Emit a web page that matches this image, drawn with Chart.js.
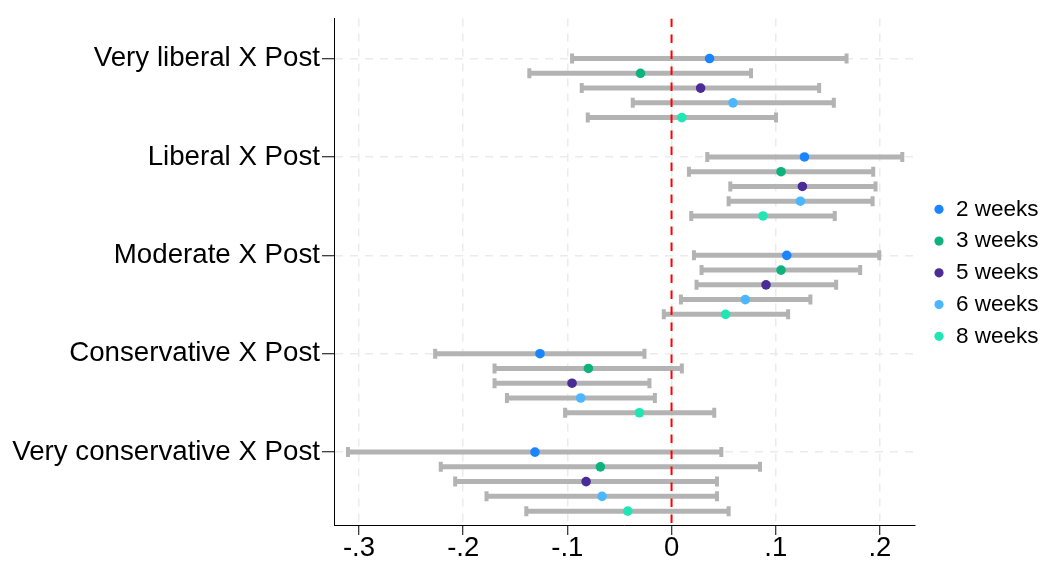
<!DOCTYPE html>
<html><head><meta charset="utf-8">
<script src="https://cdn.jsdelivr.net/npm/chart.js@4/dist/chart.umd.min.js"></script>
<style>html,body{margin:0;padding:0;background:#fff;overflow:hidden}</style>
</head><body>
<canvas id="c" width="1042" height="561" style="display:block;width:1042px;height:561px"></canvas>
<script>
// ---- data ----
const categories = ['Very liberal X Post','Liberal X Post','Moderate X Post','Conservative X Post','Very conservative X Post'];
const seriesLabels = ['2 weeks','3 weeks','5 weeks','6 weeks','8 weeks'];
const xTickValues = [-0.3,-0.2,-0.1,0,0.1,0.2];

const est2w = [0.0365, 0.1276, 0.1106, -0.1263, -0.1311];
const lo2w  = [-0.0955, 0.0343, 0.0215, -0.2269, -0.3106];
const hi2w  = [0.1680, 0.2215, 0.1994, -0.0260, 0.0478];

const est3w = [-0.0298, 0.1051, 0.1051, -0.0798, -0.0683];
const lo3w  = [-0.1365, 0.0167, 0.0288, -0.1699, -0.2215];
const hi3w  = [0.0763, 0.1936, 0.1811, 0.0099, 0.0849];

const est5w = [0.0279, 0.1256, 0.0907, -0.0955, -0.0820];
const lo5w  = [-0.0862, 0.0564, 0.0240, -0.1699, -0.2077];
const hi5w  = [0.1417, 0.1958, 0.1580, -0.0212, 0.0436];

const est6w = [0.0590, 0.1237, 0.0708, -0.0872, -0.0667];
const lo6w  = [-0.0372, 0.0548, 0.0090, -0.1580, -0.1776];
const hi6w  = [0.1558, 0.1930, 0.1333, -0.0160, 0.0436];

const est8w = [0.0099, 0.0878, 0.0519, -0.0308, -0.0420];
const lo8w  = [-0.0804, 0.0189, -0.0074, -0.1022, -0.1394];
const hi8w  = [0.1003, 0.1567, 0.1119, 0.0410, 0.0548];

const colors = ['#1a85ff', '#0db27d', '#4b2c97', '#4cb7ff', '#1fe6b4'];

// ---- build ----
const ests = [est2w, est3w, est5w, est6w, est8w];
const los = [lo2w, lo3w, lo5w, lo6w, lo8w];
const his = [hi2w, hi3w, hi5w, hi6w, hi8w];
const ROW = 0.15;
const Y_MIN = -0.406, Y_MAX = 4.741;
const X_MIN = -0.324, X_MAX = 0.2337;

const datasets = [];
seriesLabels.forEach((lab, s) => {
  datasets.push({
    label: lab,
    data: categories.map((c, g) => ({x: ests[s][g], y: g + s * ROW})),
    backgroundColor: colors[s],
    borderColor: colors[s],
    pointRadius: 4.8,
    pointHoverRadius: 4.8,
    pointBorderWidth: 0,
    showLine: false
  });
});
datasets.push({
  label: '_zero',
  data: [{x: 0, y: Y_MIN}, {x: 0, y: Y_MAX}],
  showLine: true,
  borderColor: '#ff0000',
  borderWidth: 2,
  borderDash: [8.5, 7.5],
  pointRadius: 0,
  pointHoverRadius: 0
});
seriesLabels.forEach((lab, s) => {
  categories.forEach((c, g) => {
    const y = g + s * ROW;
    datasets.push({
      label: '_ci',
      data: [{x: los[s][g], y}, {x: his[s][g], y}],
      showLine: true,
      borderColor: '#b3b3b3',
      borderWidth: 5,
      pointStyle: 'line',
      rotation: 90,
      pointRadius: 5,
      pointHoverRadius: 5,
      pointBorderWidth: 4,
      pointBorderColor: '#b3b3b3',
      pointBackgroundColor: '#b3b3b3'
    });
  });
});

Chart.defaults.font.family = 'Arial, "Liberation Sans", Helvetica, sans-serif';
Chart.defaults.color = '#000';

const LEGEND_FONT = 22.5;
const legendFix = {
  id: 'legendFix',
  beforeLayout(chart) {
    const lg = chart.legend;
    if (lg && !lg._fixed) {
      const f = lg.fit.bind(lg);
      lg.fit = function () { f(); this.width = 127; };
      lg._fixed = true;
    }
  },
  afterLayout(chart) {
    const lg = chart.legend;
    if (lg) {
      lg.left = chart.chartArea.right + 9;
      lg.top = chart.chartArea.top + 1;
      lg.bottom = chart.chartArea.bottom + 1;
    }
  }
};

new Chart(document.getElementById('c'), {
  type: 'scatter',
  data: {datasets},
  plugins: [legendFix],
  options: {
    responsive: false,
    animation: false,
    events: [],
    layout: {padding: {top: 18, left: 0, right: 0, bottom: 0}},
    plugins: {
      tooltip: {enabled: false},
      legend: {
        position: 'right',
        align: 'center',
        labels: {
          usePointStyle: true,
          pointStyle: 'circle',
          boxWidth: 11.5,
          boxHeight: 6.5,
          padding: 9.25,
          font: {size: LEGEND_FONT},
          color: '#000',
          filter: (item) => item.datasetIndex < seriesLabels.length
        }
      }
    },
    scales: {
      x: {
        type: 'linear',
        min: X_MIN,
        max: X_MAX,
        afterBuildTicks: (sc) => { sc.ticks = xTickValues.map(v => ({value: v})); },
        afterFit: (sc) => { sc.height = 36; },
        ticks: {
          autoSkip: false,
          maxRotation: 0,
          padding: 0,
          font: {size: 27.5, lineHeight: 1.0},
          color: '#000',
          callback: (v) => {
            if (Math.abs(v) < 1e-9) return '0';
            return (v < 0 ? '-' : '') + '.' + Math.round(Math.abs(v) * 10);
          }
        },
        grid: {
          color: '#ebebeb',
          lineWidth: 1.5,
          drawTicks: true,
          tickLength: 10,
          tickColor: '#000',
          tickWidth: 1,
          tickBorderDash: []
        },
        border: {display: true, color: '#000', width: 1, dash: [8, 7]}
      },
      y: {
        type: 'linear',
        reverse: true,
        min: Y_MIN,
        max: Y_MAX,
        afterBuildTicks: (sc) => { sc.ticks = categories.map((c, i) => ({value: i})); },
        afterFit: (sc) => { sc.width = 334; },
        ticks: {
          autoSkip: false,
          padding: 2,
          font: {size: 27.7},
          color: '#000',
          callback: (v) => categories[Math.round(v)]
        },
        grid: {
          color: '#ebebeb',
          lineWidth: 1.5,
          drawTicks: true,
          tickLength: 12,
          tickColor: '#000',
          tickWidth: 1,
          tickBorderDash: []
        },
        border: {display: true, color: '#000', width: 1, dash: [8, 7]}
      }
    }
  }
});
</script>
</body></html>
